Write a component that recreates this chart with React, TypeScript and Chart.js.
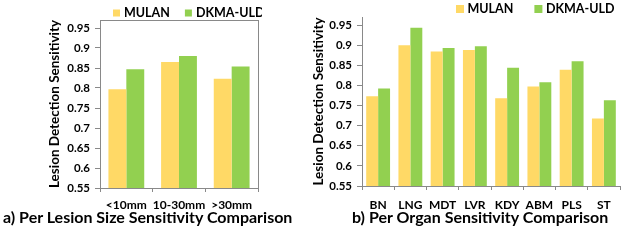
import React, { useEffect, useRef } from "react";
import { Chart, registerables } from "chart.js";

Chart.register(...registerables);

// ---------- data ----------
const seriesNames = ["MULAN", "DKMA-ULD"];

const sizeCategories = ["<10mm", "10-30mm", ">30mm"];
const sizeMulan = [0.797, 0.865, 0.823];
const sizeDkma = [0.847, 0.88, 0.854];

const organCategories = ["BN", "LNG", "MDT", "LVR", "KDY", "ABM", "PLS", "ST"];
const organMulan = [0.773, 0.9, 0.884, 0.888, 0.768, 0.797, 0.839, 0.718];
const organDkma = [0.792, 0.943, 0.893, 0.897, 0.844, 0.808, 0.86, 0.763];

const yTickValues = [0.55, 0.6, 0.65, 0.7, 0.75, 0.8, 0.85, 0.9, 0.95];
const yMin = 0.55;
const yMax = 0.97;

const yTitle = "Lesion Detection Sensitivity";
const captionA = "a) Per Lesion Size Sensitivity Comparison";
const captionB = "b) Per Organ Sensitivity Comparison";

// ---------- styles ----------
const MULAN_COLOR = "#FFD966";
const DKMA_COLOR = "#92D050";
const AXIS_COLOR = "#898989";
const FONT = "Lato";

const boxLegend = {
  id: "boxLegend",
  afterDraw(chart: any, _args: any, opts: any) {
    const ctx = chart.ctx;
    ctx.save();
    ctx.font = `bold ${opts.fontSize}px ${FONT}`;
    ctx.textBaseline = "middle";
    ctx.textAlign = "left";
    let x = opts.x;
    chart.data.datasets.forEach((ds: any) => {
      ctx.fillStyle = ds.backgroundColor;
      ctx.fillRect(x, opts.y - opts.box / 2, opts.box, opts.box);
      x += opts.box + opts.gap;
      ctx.fillStyle = "#000";
      ctx.fillText(ds.label, x, opts.y);
      x += ctx.measureText(ds.label).width + opts.itemGap;
    });
    ctx.restore();
  },
};

type Params = {
  labels: string[];
  mulan: number[];
  dkma: number[];
  top: number;
  right: number;
  yWidth: number;
  xHeight: number;
  xPad: number;
  titlePad: number;
  catPct: number;
  box: boolean;
  legend: { x: number; y: number; box: number; gap: number; itemGap: number; fontSize: number };
};

function makeConfig(p: Params): any {
  const scales: any = {
    x: {
      type: "category",
      grid: {
        display: true,
        drawOnChartArea: false,
        drawTicks: true,
        tickLength: 4,
        color: AXIS_COLOR,
        offset: true,
      },
      border: { display: true, color: AXIS_COLOR, width: 1 },
      ticks: {
        font: { family: FONT, weight: "bold", size: 12 },
        color: "#000",
        padding: p.xPad,
        maxRotation: 0,
        autoSkip: false,
      },
      afterFit: (s: any) => {
        s.height = p.xHeight;
      },
    },
    y: {
      type: "linear",
      min: yMin,
      max: yMax,
      afterBuildTicks: (s: any) => {
        s.ticks = yTickValues.map((v) => ({ value: v }));
      },
      ticks: {
        callback: (v: any) => String(v),
        font: { family: FONT, weight: "bold", size: 11.5 },
        color: "#000",
        padding: 5,
      },
      grid: {
        display: true,
        drawOnChartArea: false,
        drawTicks: true,
        tickLength: 5,
        color: AXIS_COLOR,
      },
      border: { display: true, color: AXIS_COLOR, width: 1 },
      title: {
        display: true,
        text: yTitle,
        font: { family: FONT, weight: "bold", size: 13.5 },
        color: "#000",
        padding: { top: p.titlePad, bottom: 0 },
      },
      afterFit: (s: any) => {
        s.width = p.yWidth;
      },
    },
  };
  if (p.box) {
    scales.x2 = {
      type: "category",
      position: "top",
      grid: { display: false },
      ticks: { display: false },
      border: { display: true, color: AXIS_COLOR, width: 1 },
      afterFit: (s: any) => {
        s.height = 0;
      },
    };
    scales.y2 = {
      type: "linear",
      position: "right",
      min: yMin,
      max: yMax,
      grid: { display: false },
      ticks: { display: false },
      border: { display: true, color: AXIS_COLOR, width: 1 },
      afterFit: (s: any) => {
        s.width = 0;
      },
    };
  }
  return {
    type: "bar",
    data: {
      labels: p.labels,
      datasets: [
        {
          label: seriesNames[0],
          data: p.mulan,
          backgroundColor: MULAN_COLOR,
          borderWidth: 0,
          categoryPercentage: p.catPct,
          barPercentage: 1.0,
          xAxisID: "x",
          yAxisID: "y",
        },
        {
          label: seriesNames[1],
          data: p.dkma,
          backgroundColor: DKMA_COLOR,
          borderWidth: 0,
          categoryPercentage: p.catPct,
          barPercentage: 1.0,
          xAxisID: "x",
          yAxisID: "y",
        },
      ],
    },
    options: {
      animation: false,
      responsive: false,
      maintainAspectRatio: false,
      devicePixelRatio: 1,
      layout: { padding: { top: p.top, right: p.right, left: 0, bottom: 0 } },
      plugins: {
        legend: { display: false },
        tooltip: { enabled: false },
        title: { display: false },
        boxLegend: p.legend,
      },
      scales,
    },
    plugins: [boxLegend],
  };
}

function BarChart({ params, left, width, height }: { params: Params; left: number; width: number; height: number }) {
  const ref = useRef<HTMLCanvasElement | null>(null);
  useEffect(() => {
    if (!ref.current) return;
    const chart = new Chart(ref.current, makeConfig(params));
    return () => chart.destroy();
  }, []);
  return (
    <canvas
      ref={ref}
      width={width}
      height={height}
      style={{ position: "absolute", left, top: 0, width, height }}
    />
  );
}

const leftParams: Params = {
  labels: sizeCategories,
  mulan: sizeMulan,
  dkma: sizeDkma,
  top: 20,
  right: 4,
  yWidth: 100,
  xHeight: 27,
  xPad: 6,
  titlePad: 47,
  catPct: 0.68,
  box: true,
  legend: { x: 113, y: 13, box: 7, gap: 4, itemGap: 15, fontSize: 12.5 },
};

const rightParams: Params = {
  labels: organCategories,
  mulan: organMulan,
  dkma: organDkma,
  top: 17,
  right: 3,
  yWidth: 52,
  xHeight: 29,
  xPad: 8,
  titlePad: 1,
  catPct: 0.74,
  box: false,
  legend: { x: 146, y: 9, box: 8, gap: 3.5, itemGap: 21, fontSize: 12.5 },
};

const captionStyle: React.CSSProperties = {
  position: "absolute",
  top: 209,
  fontFamily: FONT,
  fontWeight: "bold",
  fontSize: 16,
  lineHeight: 1,
  whiteSpace: "nowrap",
  color: "#000",
};

export default function App() {
  return (
    <div
      style={{
        position: "fixed",
        left: 0,
        top: 0,
        width: 623,
        height: 240,
        background: "#fff",
        overflow: "hidden",
      }}
    >
      <BarChart params={leftParams} left={0} width={262} height={215} />
      <BarChart params={rightParams} left={310} width={313} height={215} />
      <div style={{ ...captionStyle, left: 3 }}>{captionA}</div>
      <div style={{ ...captionStyle, left: 352 }}>{captionB}</div>
    </div>
  );
}
